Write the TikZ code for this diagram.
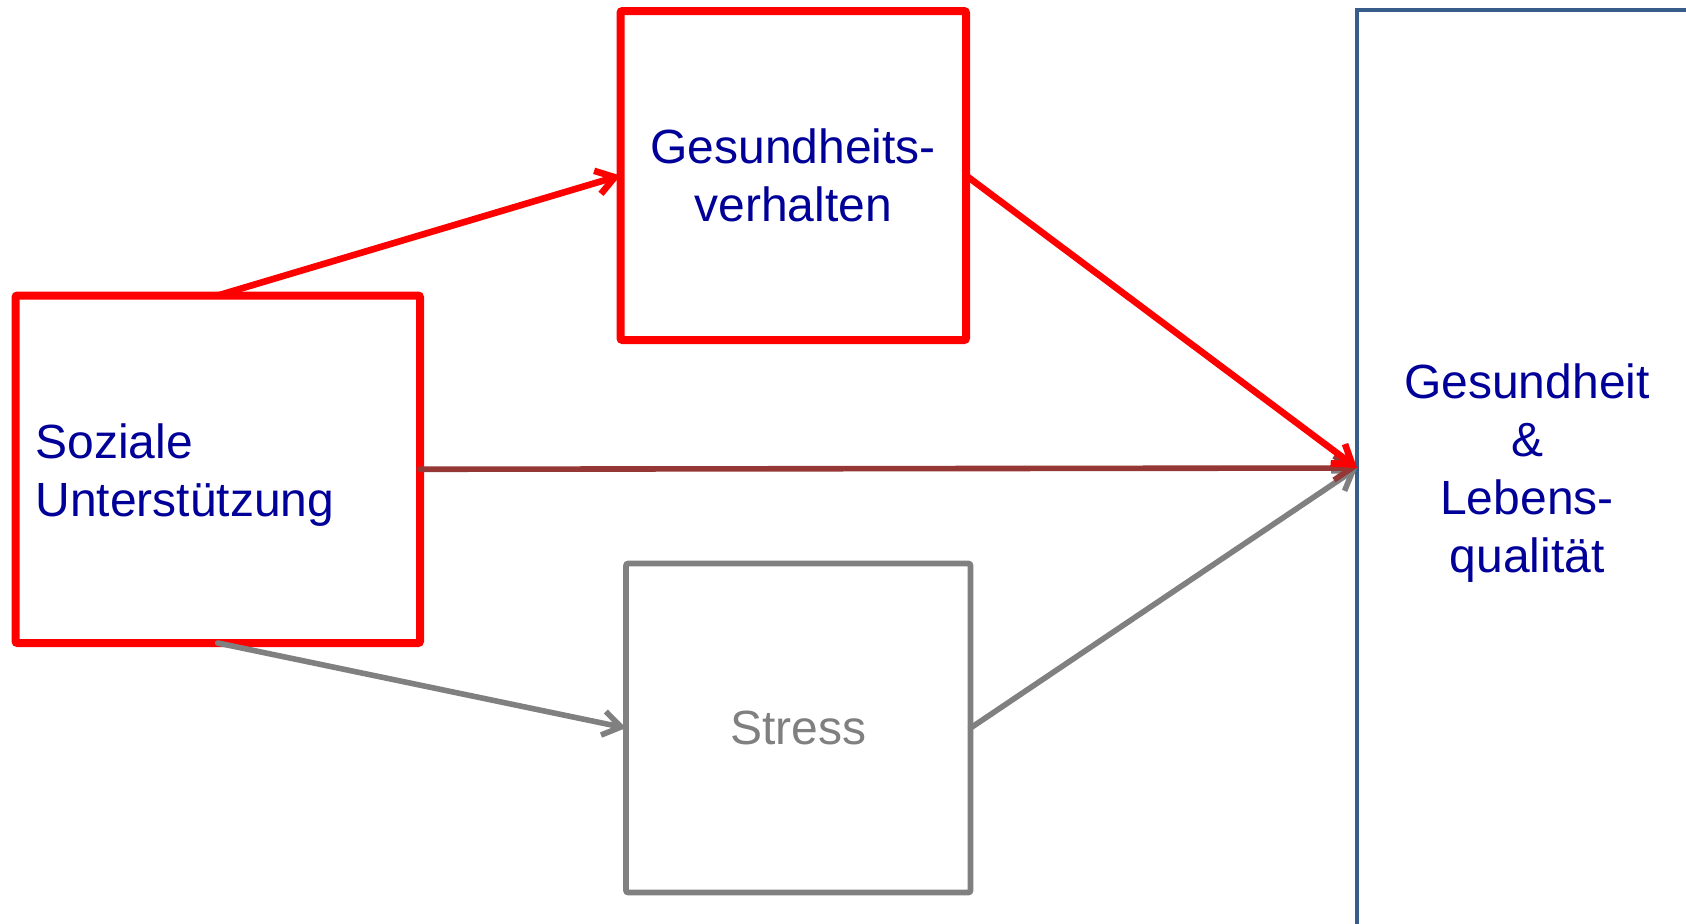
\documentclass[tikz,border=0pt]{standalone}
\usepackage{fontspec}
\setmainfont{Liberation Sans}
\usetikzlibrary{arrows.meta}
\definecolor{txtblue}{RGB}{0,0,153}
\definecolor{boxred}{RGB}{255,0,0}
\definecolor{boxgray}{RGB}{128,128,128}
\definecolor{darkred}{RGB}{149,55,53}
\definecolor{slateblue}{RGB}{56,93,138}
\begin{document}
\begin{tikzpicture}[x=0.5pt,y=-0.5pt,
  every node/.style={font=\fontsize{24}{29}\selectfont, inner sep=0pt, outer sep=0pt},
  redbox/.style={draw=boxred, line width=4pt, fill=white, rounded corners=1pt, text=txtblue, align=center},
  graybox/.style={draw=boxgray, line width=2.8pt, fill=white, rounded corners=1pt, text=boxgray, align=center},
  bluebox/.style={draw=slateblue, line width=2.2pt, fill=white},
  boxtext/.style={text=txtblue, yshift=-2.7pt},
  tip/.style={-{Straight Barb[length=9pt,width=12pt]}, line cap=round, line join=round},
  redarrow/.style={tip, draw=boxred, line width=3.3pt},
  grayarrow/.style={tip, draw=boxgray, line width=2.8pt},
  darkarrow/.style={tip, draw=darkred, line width=2.8pt}
]
\useasboundingbox (0,0) rectangle (1686,923);

% outcome box, running off the right and bottom edges
\node[bluebox, minimum width=170pt, minimum height=458pt,
      label={[boxtext, align=center]center:{Gesundheit\\\&\\Lebens-\\qualität}}] (out) at (1527,468) {};

% social support
\node[redbox, minimum width=202.25pt, minimum height=173.75pt,
      label={[boxtext, align=left, anchor=west, xshift=10pt]west:{Soziale\\Unterstützung}}] (soz) at (217.75,469.25) {};

% mediators
\node[redbox, minimum width=172.75pt, minimum height=164.5pt] (gv) at (793.25,175.5)
  {Gesundheits-\\verhalten};
\node[graybox, minimum width=172.25pt, minimum height=164.5pt] (stress) at (798.25,728)
  {Stress};

% paths
\draw[grayarrow] (soz.south) -- (stress.west);
\draw[grayarrow] (stress.east) -- (out.west);
\draw[darkarrow] (soz.east) -- (out.west);
\draw[redarrow] (soz.north) -- (gv.west);
\draw[redarrow] (gv.east) -- (out.west);
\end{tikzpicture}
\end{document}
